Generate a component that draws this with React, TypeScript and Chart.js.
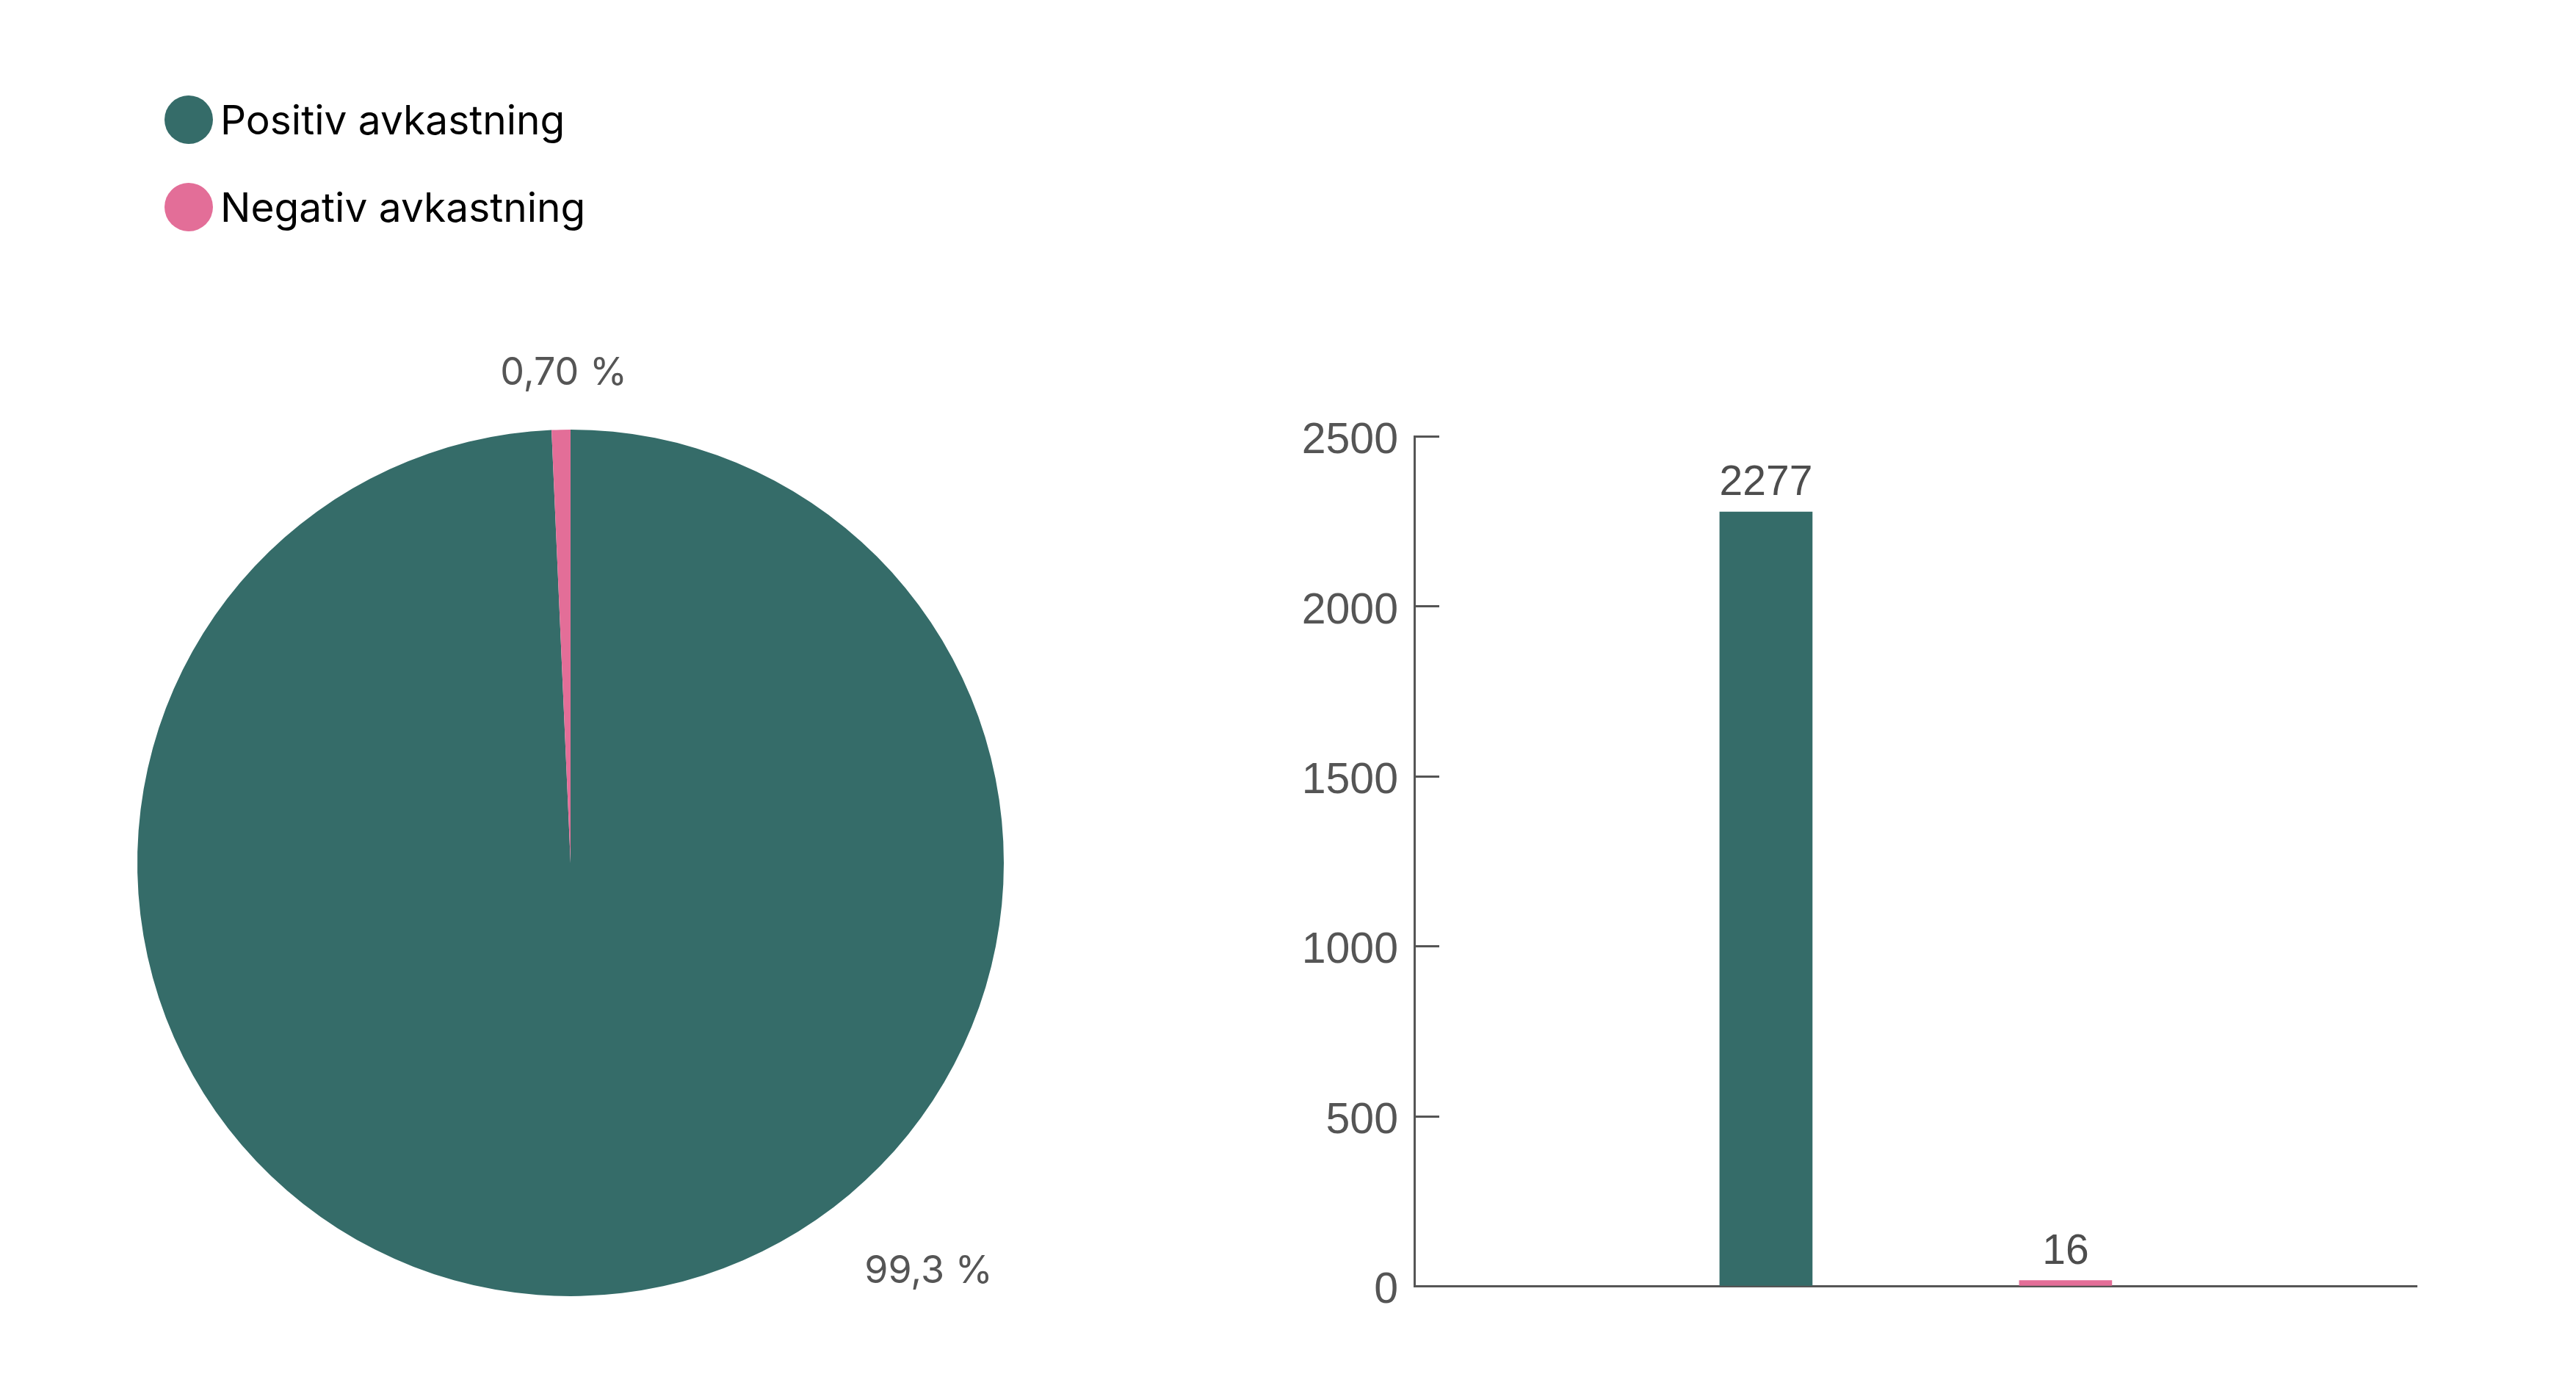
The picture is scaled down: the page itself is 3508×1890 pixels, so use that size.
import React, { useEffect, useRef } from 'react';
import { Chart, registerables } from 'chart.js';

Chart.register(...registerables);

// ---- data ----
const categories = ['Positiv avkastning', 'Negativ avkastning'];
const shares = [99.3, 0.7];
const shareLabels = ['99,3 %', '0,70 %'];
const counts = [2277, 16];
const colors = ['#356C69', '#E36E98'];
const yMax = 2500;
const yStep = 500;

const TEXT_GRAY = '#555555';
const AXIS_GRAY = '#555555';

const pieLabelPlugin = {
  id: 'pieLabels',
  afterDatasetsDraw(chart: any, _args: any, opts: any) {
    const meta = chart.getDatasetMeta(0);
    const ctx = chart.ctx;
    ctx.save();
    ctx.font = opts.font;
    ctx.fillStyle = opts.color;
    ctx.textAlign = 'center';
    ctx.textBaseline = 'middle';
    meta.data.forEach((arc: any, i: number) => {
      const place = opts.placement[i];
      const ang = ((place.angle - 90) * Math.PI) / 180;
      const r = arc.outerRadius + place.extra;
      const x = arc.x + Math.cos(ang) * r;
      const y = arc.y + Math.sin(ang) * r;
      ctx.fillText(opts.labels[i], x, y);
    });
    ctx.restore();
  },
};

const barExtrasPlugin = {
  id: 'barExtras',
  afterDraw(chart: any, _args: any, opts: any) {
    const ctx = chart.ctx;
    const yScale = chart.scales.y;
    const area = chart.chartArea;
    ctx.save();
    // inward ticks
    ctx.strokeStyle = opts.tickColor;
    ctx.lineWidth = opts.tickWidth;
    yScale.ticks.forEach((t: any) => {
      const py = Math.round(yScale.getPixelForValue(t.value)) + 0.5;
      ctx.beginPath();
      ctx.moveTo(area.left, py);
      ctx.lineTo(area.left + opts.tickLength, py);
      ctx.stroke();
    });
    // value labels
    const meta = chart.getDatasetMeta(0);
    ctx.font = opts.font;
    ctx.fillStyle = opts.color;
    ctx.textAlign = 'center';
    ctx.textBaseline = 'bottom';
    meta.data.forEach((bar: any, i: number) => {
      ctx.fillText(String(counts[i]), bar.x, bar.y - opts.gap);
    });
    ctx.restore();
  },
};

export default function App() {
  const pieRef = useRef<HTMLCanvasElement | null>(null);
  const barRef = useRef<HTMLCanvasElement | null>(null);

  useEffect(() => {
    const pie = new Chart(pieRef.current as HTMLCanvasElement, {
      type: 'pie',
      data: {
        labels: categories,
        datasets: [
          {
            data: shares,
            backgroundColor: colors,
            borderWidth: 0,
            hoverOffset: 0,
          },
        ],
      },
      options: {
        animation: false,
        responsive: false,
        devicePixelRatio: 1,
        layout: { padding: 160 },
        plugins: {
          legend: { display: false },
          tooltip: { enabled: false },
          pieLabels: {
            labels: shareLabels,
            font: '400 52px Inter',
            color: TEXT_GRAY,
            placement: [
              { angle: 138.8, extra: 150 },
              { angle: -0.8, extra: 77 },
            ],
          },
        } as any,
      },
      plugins: [pieLabelPlugin],
    });

    const bar = new Chart(barRef.current as HTMLCanvasElement, {
      type: 'bar',
      data: {
        datasets: [
          {
            data: counts.map((v, i) => ({ x: i + 1, y: v })),
            backgroundColor: colors,
            borderWidth: 0,
            barThickness: 126,
          },
        ],
      },
      options: {
        animation: false,
        responsive: false,
        devicePixelRatio: 1,
        layout: { padding: { top: 194, right: 159, bottom: 99, left: 0 } },
        scales: {
          x: {
            type: 'linear',
            offset: false,
            min: -0.174,
            max: 3.172,
            ticks: { display: false },
            grid: { drawOnChartArea: false, drawTicks: false },
            border: { display: true, color: AXIS_GRAY, width: 3 },
            afterFit: (s: any) => {
              s.height = 0;
            },
          },
          y: {
            min: 0,
            max: yMax,
            ticks: {
              stepSize: yStep,
              padding: 22,
              labelOffset: 7,
              color: TEXT_GRAY,
              font: { family: 'Liberation Sans', size: 59 },
              callback: (v: any) => String(v),
            },
            grid: { drawOnChartArea: false, drawTicks: false },
            border: { display: true, color: AXIS_GRAY, width: 3 },
            afterFit: (s: any) => {
              s.width = 226;
            },
          },
        },
        plugins: {
          legend: { display: false },
          tooltip: { enabled: false },
          barExtras: {
            tickColor: AXIS_GRAY,
            tickWidth: 3,
            tickLength: 34,
            font: '400 57px "Liberation Sans"',
            color: '#4d4d4d',
            gap: 10,
          },
        } as any,
      },
      plugins: [barExtrasPlugin],
    });

    return () => {
      pie.destroy();
      bar.destroy();
    };
  }, []);

  return (
    <div
      style={{
        position: 'absolute',
        left: 0,
        top: 0,
        width: 3508,
        height: 1890,
        background: '#ffffff',
        overflow: 'hidden',
      }}
    >
      {categories.map((c, i) => (
        <div
          key={c}
          style={{
            position: 'absolute',
            left: 224,
            top: 130 + i * 119,
            height: 66,
            display: 'flex',
            alignItems: 'center',
            fontFamily: 'Inter',
            fontSize: 55,
            color: '#000000',
            whiteSpace: 'nowrap',
          }}
        >
          <span
            style={{
              display: 'inline-block',
              width: 66,
              height: 66,
              borderRadius: '50%',
              background: colors[i],
              marginRight: 10,
            }}
          />
          <span>{c}</span>
        </div>
      ))}
      <canvas
        ref={pieRef}
        width={1500}
        height={1500}
        style={{ position: 'absolute', left: 27, top: 425, width: 1500, height: 1500 }}
      />
      <canvas
        ref={barRef}
        width={1750}
        height={1450}
        style={{ position: 'absolute', left: 1700, top: 400, width: 1750, height: 1450 }}
      />
    </div>
  );
}
